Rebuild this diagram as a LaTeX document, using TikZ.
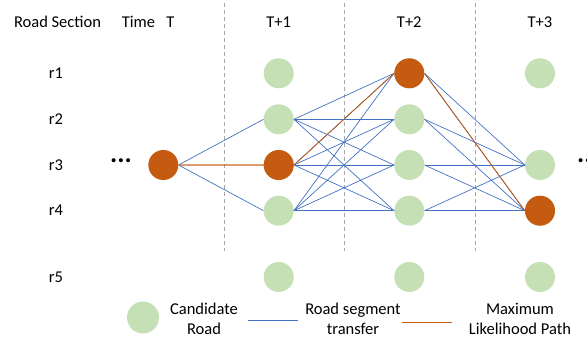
\documentclass[tikz,border=0pt]{standalone}
\usepackage{fontspec}
\setmainfont{Carlito}
\usepackage{tikz}
\usetikzlibrary{positioning}
\definecolor{candgreen}{HTML}{C5E0B4}
\definecolor{pathorange}{HTML}{C55A11}
\definecolor{linkblue}{HTML}{4472C4}
\definecolor{sepgray}{HTML}{A6A6A6}
\tikzset{
  candidate/.style={circle, fill=candgreen, minimum size=30pt, inner sep=0pt},
  chosen/.style={circle, fill=pathorange, minimum size=30pt, inner sep=0pt},
  transfer/.style={linkblue, line width=0.7pt},
  bestpath/.style={pathorange, line width=0.8pt},
  guide/.style={sepgray, dash pattern=on 4pt off 3pt, line width=0.7pt},
  lbl/.style={font=\fontsize{16.5}{20}\selectfont, inner sep=0pt, align=center},
  ellip/.style={font=\fontsize{27}{27}\selectfont\bfseries, inner sep=0pt}
}

\begin{document}
\begin{tikzpicture}[x=1pt, y={(0pt,-1pt)}]
  \useasboundingbox (0,0) rectangle (587,340);
  % header row
  \node[lbl] (hsec) at (57.5,22) {Road Section};
  \node[lbl] (htime) at (138.5,22) {Time};
  \node[lbl] (ht0) at (170.5,22) {T};
  \node[lbl] (ht1) at (278.7,22) {T+1};
  \node[lbl] (ht2) at (409.3,22) {T+2};
  \node[lbl] (ht3) at (540,22) {T+3};
  % time separators
  \foreach \x in {224,344,475}
    \draw[guide] (\x,3)--(\x,251);
  % road section labels
  \foreach \r/\y in {1/73.3,2/119.3,3/165,4/210.7,5/277}
    \node[lbl] (sec\r) at (56,\y) {r\r};
  % candidate roads per time step
  \node[chosen] (t0r3) at (163.3,165) {};
  \foreach \c/\x in {1/278.7,2/409.3}{
    \foreach \r/\y in {1/73.3,2/119.3,3/165,4/210.7,5/277}{
      \node[candidate] (t\c r\r) at (\x,\y) {};
    }
  }
  \foreach \r/\y in {1/73.3,3/165,4/210.7,5/277}
    \node[candidate] (t3r\r) at (540,\y) {};
  \node[chosen] at (t1r3) {};
  \node[chosen] at (t2r1) {};
  \node[chosen] at (t3r4) {};
  \node[ellip] (dotsl) at (121,161) {...};
  \node[ellip, anchor=west] (dotsr) at (577,161) {...};
  % transitions
  \foreach \b in {2,4}
    \draw[transfer] (t0r3.east)--(t1r\b.west);
  \foreach \a in {2,3,4}{
    \foreach \b in {1,2,3,4}{
      \draw[transfer] (t1r\a.east)--(t2r\b.west);
    }
  }
  \foreach \a in {1,2,3,4}{
    \foreach \b in {3,4}{
      \draw[transfer] (t2r\a.east)--(t3r\b.west);
    }
  }
  % most likely sequence
  \draw[bestpath, opacity=0.6, line width=1.1pt] (t0r3.east)--(t1r3.west);
  \draw[bestpath] (t1r3.east)--(t2r1.west);
  \draw[bestpath] (t2r1.east)--(t3r4.west);
  % legend
  \node[candidate, minimum size=32pt] (legc) at (143,317.5) {};
  \node[lbl] (legctxt) at (204,319) {Candidate\\Road};
  \coordinate (legb1) at (248,320);
  \coordinate (legb2) at (298,320);
  \draw[transfer] (legb1)--(legb2);
  \node[lbl] (legbtxt) at (353,319) {Road segment\\transfer};
  \coordinate (lego1) at (402,322);
  \coordinate (lego2) at (452,322);
  \draw[bestpath, line width=1pt] (lego1)--(lego2);
  \node[lbl] (legotxt) at (520,319) {Maximum\\Likelihood Path};
\end{tikzpicture}
\end{document}
